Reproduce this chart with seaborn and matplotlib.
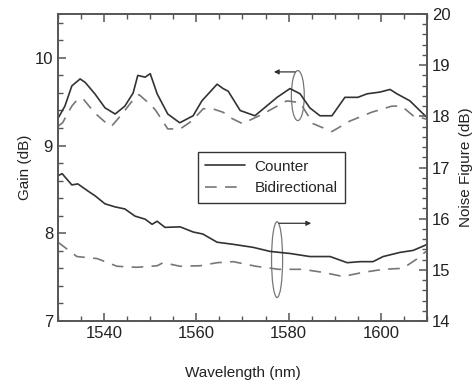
import matplotlib
matplotlib.use("Agg")
import matplotlib.pyplot as plt
from matplotlib.patches import Ellipse
from matplotlib.ticker import MultipleLocator
import seaborn as sns

# gain (left axis)
wl_gc = [1530, 1531.5, 1533, 1534.8, 1535.9, 1538, 1540.2, 1542.4, 1544.5, 1546.3,
         1547.3, 1548.9, 1550, 1551.5, 1553.8, 1556.4, 1559.3, 1561.2, 1564.5, 1565.8,
         1566.9, 1569.5, 1572.7, 1577.5, 1580.3, 1582.5, 1584.6, 1586.8, 1589.4, 1592.2,
         1595, 1597, 1599.8, 1602, 1603.5, 1606.3, 1609.6, 1610]
gain_c = [9.31, 9.45, 9.68, 9.76, 9.72, 9.59, 9.43, 9.36, 9.45, 9.60,
          9.80, 9.78, 9.82, 9.59, 9.36, 9.26, 9.34, 9.51, 9.70, 9.65,
          9.62, 9.40, 9.34, 9.55, 9.65, 9.59, 9.43, 9.34, 9.34, 9.55,
          9.55, 9.59, 9.61, 9.64, 9.59, 9.51, 9.34, 9.32]

wl_gb = [1530, 1531, 1533, 1534.3, 1535.5, 1538, 1540.6, 1541.6, 1543.9, 1546.7,
         1547.6, 1550.4, 1551.2, 1553.8, 1556.5, 1559, 1561.5, 1563.5, 1565.8, 1567.3,
         1570, 1574.4, 1579.6, 1582.5, 1585.3, 1589.4, 1593.3, 1598, 1602.4, 1604.5,
         1607, 1610]
gain_b = [9.22, 9.26, 9.45, 9.53, 9.53, 9.37, 9.25, 9.22, 9.36, 9.55,
          9.58, 9.45, 9.40, 9.19, 9.19, 9.28, 9.42, 9.42, 9.38, 9.32,
          9.25, 9.36, 9.51, 9.49, 9.25, 9.16, 9.28, 9.38, 9.45, 9.45,
          9.34, 9.30]

# noise figure (right axis)
wl_nc = [1530, 1530.9, 1533, 1534.3, 1536.5, 1538, 1540.2, 1542.4, 1544.5, 1546.7,
         1548.9, 1550.4, 1551.5, 1553.2, 1556.5, 1559.3, 1561.4, 1564.5, 1567.9, 1572.3,
         1576, 1580.3, 1584.6, 1589, 1592.7, 1595.5, 1598.3, 1600.5, 1604.1, 1607,
         1609.6, 1610]
nf_c = [16.84, 16.88, 16.66, 16.68, 16.54, 16.45, 16.29, 16.23, 16.19, 16.05,
        15.99, 15.89, 15.95, 15.83, 15.84, 15.74, 15.70, 15.54, 15.50, 15.44,
        15.36, 15.32, 15.26, 15.26, 15.14, 15.16, 15.16, 15.26, 15.34, 15.38,
        15.48, 15.50]

wl_nb = [1530, 1534.1, 1538.5, 1542.8, 1547.1, 1551.5, 1552.8, 1556.5, 1560.8, 1564.5,
         1568, 1572.9, 1577.9, 1583.1, 1587.5, 1591.8, 1596.1, 1600.5, 1604.8, 1607.6,
         1609.8]
nf_b = [15.54, 15.26, 15.22, 15.07, 15.05, 15.08, 15.14, 15.07, 15.08, 15.14,
        15.16, 15.07, 15.01, 15.01, 14.95, 14.87, 14.95, 15.01, 15.03, 15.20,
        15.36]

sns.set_style("ticks")
plt.rcParams['font.family'] = ['Liberation Sans', 'DejaVu Sans']

solid_col = "#333333"
dash_col = "#777777"
dash = (0, (7, 5))

fig = plt.figure(figsize=(4.76, 3.85), dpi=100)
ax = fig.add_axes([0.1218, 0.1662, 0.7752, 0.7974])
ax2 = ax.twinx()

sns.lineplot(x=wl_gc, y=gain_c, ax=ax, color=solid_col, lw=1.2, label="Counter")
sns.lineplot(x=wl_gb, y=gain_b, ax=ax, color=dash_col, lw=1.2, linestyle=dash, label="Bidirectional")
sns.lineplot(x=wl_nc, y=nf_c, ax=ax2, color=solid_col, lw=1.2, legend=False)
sns.lineplot(x=wl_nb, y=nf_b, ax=ax2, color=dash_col, lw=1.2, linestyle=dash, legend=False)

ax.set_xlim(1530, 1610)
ax.set_ylim(7, 10.5)
ax2.set_ylim(14, 20)

ax.xaxis.set_major_locator(MultipleLocator(20))
ax.xaxis.set_minor_locator(MultipleLocator(5))
ax.yaxis.set_major_locator(MultipleLocator(1))
ax.yaxis.set_minor_locator(MultipleLocator(0.2))
ax2.yaxis.set_major_locator(MultipleLocator(1))
ax2.yaxis.set_minor_locator(MultipleLocator(0.2))

for a in (ax, ax2):
    for s in a.spines.values():
        s.set_color("#555555")
        s.set_linewidth(1.2)
ax.tick_params(which="both", direction="in", top=True, color="#555555", labelsize=12, labelcolor="#222222")
ax.tick_params(which="major", length=6, width=1.1)
ax.tick_params(which="minor", length=3.5, width=1.0)
ax2.tick_params(which="both", direction="in", color="#555555", labelsize=12, labelcolor="#222222")
ax2.tick_params(which="major", length=6, width=1.1)
ax2.tick_params(which="minor", length=3.5, width=1.0)

ax.set_xlabel("Wavelength (nm)", fontsize=11, color="#222222", labelpad=18)
ax.set_ylabel("Gain (dB)", fontsize=11, color="#222222", labelpad=2)
ax2.set_ylabel("Noise Figure (dB)", fontsize=11, color="#222222", labelpad=6)

leg = ax.legend(loc="upper left", bbox_to_anchor=(0.379, 0.55), fancybox=False,
                edgecolor="#333333", framealpha=1, fontsize=11, handlelength=2.6,
                handletextpad=0.6, borderaxespad=0, borderpad=0.5, labelspacing=0.5)
leg.get_frame().set_linewidth(1.0)

# ellipse + arrow markers
ax.add_patch(Ellipse((1582, 9.57), 2.8, 0.57, fill=False, color="#777777", lw=0.9))
ax.annotate("", xy=(1576.2, 9.84), xytext=(1582, 9.84),
            arrowprops=dict(arrowstyle="-|>", color="#333333", lw=0.9, mutation_scale=7))
ax2.add_patch(Ellipse((1577.5, 15.2), 2.4, 1.48, fill=False, color="#777777", lw=0.9))
ax2.annotate("", xy=(1585.5, 15.91), xytext=(1577.3, 15.91),
             arrowprops=dict(arrowstyle="-|>", color="#333333", lw=0.9, mutation_scale=7))

fig.savefig("out.png", dpi=100)
